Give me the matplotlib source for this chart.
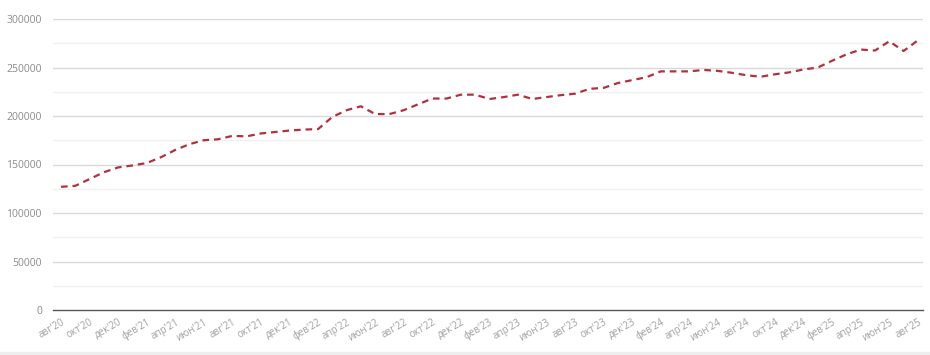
import matplotlib
matplotlib.use("Agg")
import matplotlib.pyplot as plt
import numpy as np

plt.rcParams['font.family'] = ['Open Sans', 'DejaVu Sans']

# monthly values, авг'20 .. авг'25
values = [127000, 128000, 135000, 142000, 147000, 149000, 151500, 157500, 165000, 171000,
          175000, 176000, 179500, 179000, 182000, 183500, 185000, 186000, 186500, 199000,
          206000, 210000, 202000, 202000, 206000, 212000, 218000, 218000, 222000, 222000,
          217500, 219500, 222000, 217500, 219500, 221500, 223000, 228000, 229000, 234000,
          237000, 240000, 246000, 246000, 246000, 247500, 246500, 244500, 242000, 240500,
          243000, 245000, 248000, 250000, 257000, 263500, 268500, 267500, 277000, 267000,
          278000]
tick_labels = ["авг'20", "окт'20", "дек'20", "фев'21", "апр'21", "июн'21", "авг'21", "окт'21",
               "дек'21", "фев'22", "апр'22", "июн'22", "авг'22", "окт'22", "дек'22", "фев'23",
               "апр'23", "июн'23", "авг'23", "окт'23", "дек'23", "фев'24", "апр'24", "июн'24",
               "авг'24", "окт'24", "дек'24", "фев'25", "апр'25", "июн'25", "авг'25"]

x = np.arange(len(values))

fig = plt.figure(figsize=(9.3, 3.55), dpi=100)
ax = fig.add_axes([53/930, 1 - 310/355, (923 - 53)/930, (310 - 19)/355])

# grid: solid at 50000 steps, faint at 25000 steps
for v in range(25000, 300001, 25000):
    if v % 50000 == 0:
        ax.axhline(v, color="#d9d9d9", lw=1.0, zorder=0)
    else:
        ax.axhline(v, color="#f0f0f0", lw=1.0, zorder=0)

ax.plot(x, values, color="#b2303f", lw=1.6, ls=(0, (3, 2.2)), zorder=3)

ax.set_xlim(-0.56, 60.36)
ax.set_ylim(0, 300000)
ax.set_yticks(range(0, 300001, 50000))
ax.set_xticks(x[::2])
ax.set_xticklabels(tick_labels, rotation=30, ha="right", rotation_mode="anchor")

for s in ["top", "right", "left"]:
    ax.spines[s].set_visible(False)
ax.spines["bottom"].set_color("#555555")
ax.spines["bottom"].set_linewidth(1.0)
ax.tick_params(axis="y", length=0, labelsize=7.5, labelcolor="#8c8c8c", pad=8)
ax.tick_params(axis="x", length=0, labelsize=7, labelcolor="#a0a0a0", pad=5)

# light band at the very bottom
fig.add_artist(plt.Rectangle((0, 0), 1, 3/355, transform=fig.transFigure, color="#eeeeee"))

fig.savefig("out.png", dpi=100)
